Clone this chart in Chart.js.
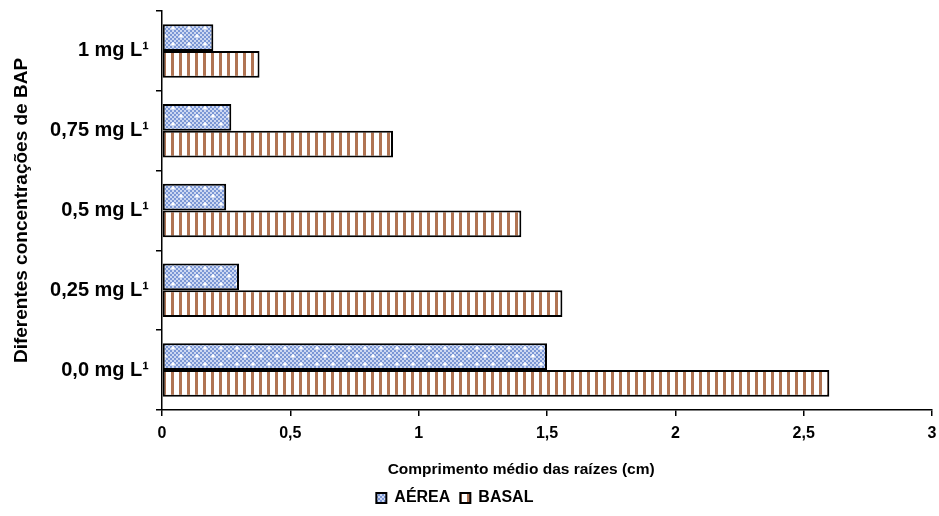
<!DOCTYPE html>
<html>
<head>
<meta charset="utf-8">
<script src="https://cdn.jsdelivr.net/npm/chart.js@4"></script>
<style>
  html, body { margin: 0; padding: 0; background: #fff; }
  #wrap { width: 939px; height: 516px; }
</style>
</head>
<body>
<div id="wrap"><canvas id="c" width="939" height="516"></canvas></div>
<script>
// Concentrations of BAP (top to bottom)
const categories = ['1 mg L¹', '0,75 mg L¹', '0,5 mg L¹', '0,25 mg L¹', '0,0 mg L¹'];
// Mean root length (cm)
const aerea = [0.2, 0.27, 0.25, 0.3, 1.5];
const basal = [0.38, 0.9, 1.4, 1.56, 2.6];
const xTicks = [0, 0.5, 1, 1.5, 2, 2.5, 3];

// Non-breaking spaces used to nudge centred text to the left
const pad = (n) => '\u00A0'.repeat(n);

// Blue checkered fill with small white dots
function dottedPattern() {
  const p = document.createElement('canvas');
  p.width = 16; p.height = 16;
  const g = p.getContext('2d');
  for (let y = 0; y < 16; y += 2) {
    for (let x = 0; x < 16; x += 2) {
      g.fillStyle = ((x + y) / 2) % 2 === 0 ? '#7b97d5' : '#cdd8f2';
      g.fillRect(x, y, 2, 2);
    }
  }
  g.fillStyle = 'rgba(255,255,255,0.6)';
  g.fillRect(3, 3, 4, 2); g.fillRect(4, 2, 2, 4);
  g.fillRect(11, 11, 4, 2); g.fillRect(12, 10, 2, 4);
  g.fillStyle = '#ffffff';
  g.fillRect(4, 3, 2, 2);
  g.fillRect(12, 11, 2, 2);
  return g.createPattern(p, 'repeat');
}

// White fill with brown vertical stripes
function stripePattern() {
  const p = document.createElement('canvas');
  p.width = 8; p.height = 8;
  const g = p.getContext('2d');
  g.fillStyle = '#ffffff';
  g.fillRect(0, 0, 8, 8);
  g.fillStyle = '#b07453';
  g.fillRect(3, 0, 3, 8);
  return g.createPattern(p, 'repeat');
}

const fam = 'Liberation Sans, Arial, sans-serif';
const f = (size) => ({ family: fam, weight: 'bold', size: size });

new Chart(document.getElementById('c'), {
  type: 'bar',
  data: {
    labels: categories,
    datasets: [
      { label: 'AÉREA', data: aerea, backgroundColor: dottedPattern(), borderColor: '#000', borderWidth: 2, borderSkipped: false },
      { label: 'BASAL' + pad(5), data: basal, backgroundColor: stripePattern(), borderColor: '#000', borderWidth: 2, borderSkipped: false }
    ]
  },
  options: {
    indexAxis: 'y',
    responsive: false,
    animation: false,
    events: [],
    layout: { padding: { top: 11, right: 7, left: 0, bottom: 0 } },
    datasets: { bar: { categoryPercentage: 0.67, barPercentage: 1.0 } },
    scales: {
      x: {
        min: 0, max: 3,
        afterBuildTicks: (axis) => { axis.ticks = xTicks.map(v => ({ value: v })); },
        afterFit: (scale) => { scale.height = 70; scale.paddingLeft = 0; scale.paddingRight = 0; },
        ticks: {
          color: '#000', font: f(16), padding: 8, maxRotation: 0,
          callback: (v) => String(v).replace('.', ',')
        },
        grid: { drawOnChartArea: false, drawTicks: true, tickLength: 6, color: '#000', lineWidth: 1.5 },
        border: { color: '#000', width: 1.5 },
        title: { display: true, text: 'Comprimento médio das raízes (cm)' + pad(12), color: '#000', font: f(15.5), padding: { top: 0, bottom: 1 } }
      },
      y: {
        afterFit: (scale) => { scale.width = 162; scale.paddingTop = 0; scale.paddingBottom = 0; },
        ticks: { color: '#000', font: f(20), padding: 7 },
        grid: { drawOnChartArea: false, drawTicks: true, tickLength: 6, color: '#000', lineWidth: 1.5 },
        border: { color: '#000', width: 1.5 },
        title: { display: true, text: 'Diferentes concentrações de BAP', color: '#000', font: f(19), padding: { top: 10, bottom: 0 } }
      }
    },
    plugins: {
      legend: {
        position: 'bottom',
        labels: { color: '#000', font: f(16), boxWidth: 10, boxHeight: 10, padding: 10 }
      },
      tooltip: { enabled: false }
    }
  }
});
</script>
</body>
</html>
